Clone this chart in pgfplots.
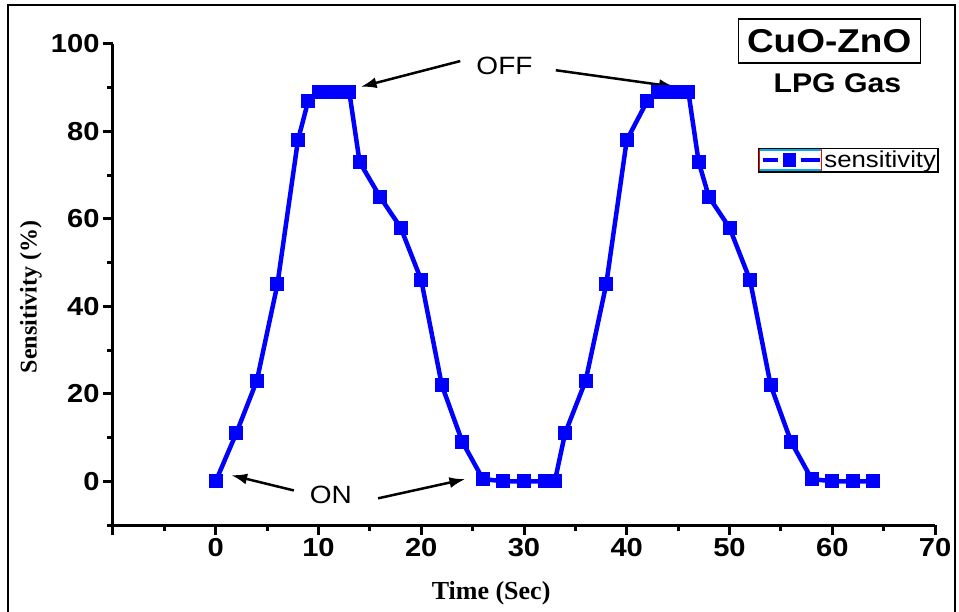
\documentclass[border=0pt]{standalone}
\usepackage{pgfplots}
\pgfplotsset{compat=1.18}
\usepackage{fontspec}
\setmainfont{Liberation Serif}
\newfontfamily\arialf[FakeStretch=1.12]{Liberation Sans}
\usetikzlibrary{arrows.meta}
\begin{document}
\begin{tikzpicture}
\useasboundingbox (0,0) rectangle (959pt,-612pt);
\draw[line width=2pt] (8pt,-620pt) -- (8pt,-5pt) -- (955pt,-5pt) -- (955pt,-620pt);
\begin{axis}[
 at={(113pt,-525pt)}, anchor=south west,
 scale only axis, width=822pt, height=481pt,
 xmin=-10, xmax=70, ymin=-10, ymax=100,
 axis x line*=bottom, axis y line*=left,
 axis line style={line width=3pt, black},
 xtick={-10,0,...,70}, xticklabels={,0,10,20,30,40,50,60,70},
 minor xtick={-5,5,...,65},
 ytick={0,20,...,100}, minor ytick={-10,10,...,90},
 tick align=outside,
 major tick length=10pt, minor tick length=6pt,
 tick style={line width=3pt, black},
 /pgf/number format/assume math mode=true,
 tick label style={font=\arialf\bfseries\fontsize{26}{26}\selectfont},
 xlabel={Time (Sec)}, ylabel={Sensitivity (\%)},
 xlabel style={font=\bfseries\fontsize{26}{26}\selectfont, at={(axis description cs:0.46,-0.141)}, anchor=center},
 ylabel style={font=\bfseries\fontsize{24}{24}\selectfont, at={(axis description cs:-0.1,0.474)}, anchor=center},
 clip=false,
 legend style={at={(0.785,0.784)}, anchor=north west, draw=black, line width=1.2pt, inner sep=0pt,
   nodes={inner sep=2pt}, font=\arialf\fontsize{23}{23}\selectfont},
 legend image code/.code={
   \draw[cyan, line width=1.5pt] (1pt,-10pt) rectangle (63pt,10pt);
   \draw[red, line width=1.5pt] (1pt,-11pt) -- (1pt,11pt);
   \draw[red, line width=1.5pt] (63pt,-11pt) -- (63pt,11pt);
   \draw[blue, line width=4pt] (4pt,0pt) -- (19pt,0pt);
   \fill[blue] (27pt,-5pt) rectangle (35pt,5pt);
   \draw[blue, line width=4pt] (42pt,0pt) -- (61pt,0pt);
 },
]
\addplot[blue, line width=4.5pt, mark=square*, mark size=6.5pt, mark options={solid, line width=0pt, fill=blue}] coordinates {
(0,0) (2,11) (4,23) (6,45) (8,78) (9,87) (10,89) (11,89) (12,89) (13,89)
(14,73) (16,65) (18,58) (20,46) (22,22) (24,9) (26,0.5) (28,0) (30,0) (32,0) (33,0)
(34,11) (36,23) (38,45) (40,78) (42,87) (43,89) (44,89) (45,89) (46,89)
(47,73) (48,65) (50,58) (52,46) (54,22) (56,9) (58,0.5) (60,0) (62,0) (64,0)
};
\addlegendentry{sensitivity}
\node[font=\arialf\fontsize{25}{25}\selectfont] at (axis cs:28.1,95) {OFF};
\draw[-{Latex[length=16pt,width=11pt]}, line width=2.5pt] (axis cs:23.8,96.1) -- (axis cs:14.1,90.2);
\draw[-{Latex[length=16pt,width=11pt]}, line width=2.5pt] (axis cs:33.1,94.0) -- (axis cs:44.7,90.2);
\node[font=\arialf\fontsize{25}{25}\selectfont] at (axis cs:11.2,-3.2) {ON};
\draw[-{Latex[length=16pt,width=11pt]}, line width=2.5pt] (axis cs:7.6,-2.1) -- (axis cs:1.5,1.4);
\draw[-{Latex[length=16pt,width=11pt]}, line width=2.5pt] (axis cs:15.8,-3.9) -- (axis cs:24.3,0.5);
\node[draw=black, line width=1.2pt, minimum width=182pt, minimum height=44pt, inner sep=0pt,
  font=\arialf\bfseries\fontsize{33}{33}\selectfont] at (axis cs:59.7,100.7) {CuO-ZnO};
\node[font=\arialf\bfseries\fontsize{27}{27}\selectfont] at (axis cs:60.5,91.1) {LPG Gas};
\end{axis}
\end{tikzpicture}
\end{document}
